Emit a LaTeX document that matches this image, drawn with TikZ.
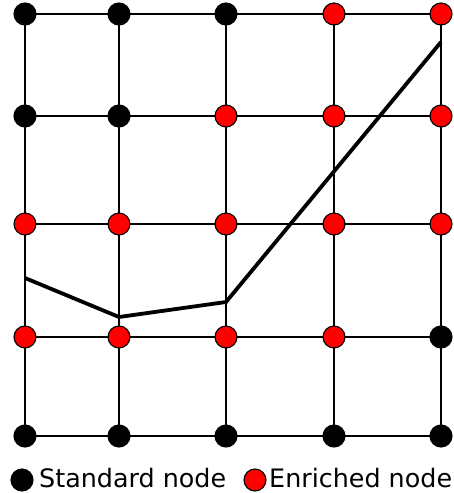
\documentclass[tikz,border=0pt]{standalone}
\usepackage{fontspec}
\setmainfont{DejaVu Sans}
\usepackage{tikz}
\usetikzlibrary{backgrounds, positioning}
\tikzset{
  %% Grid node (mesh vertex)
  stdnode/.style={
    circle, fill=black, draw=black,
    minimum size=22pt, inner sep=0pt, line width=1.1pt
  },
  enrnode/.style={
    circle, fill=red, draw=black,
    minimum size=22pt, inner sep=0pt, line width=1.1pt
  },
  %% Mesh line
  mesh/.style={draw=black, line width=1.6pt},
  %% Crack path
  crack/.style={draw=black, line width=3.8pt, line join=miter},
  %% Legend text
  legtext/.style={anchor=base west, inner sep=0pt, font=\fontsize{25.4}{28}\selectfont},
}

\begin{document}
\begin{tikzpicture}[x=1pt, y=-1pt]

  \useasboundingbox (0,0) rectangle (454,493);

  %% ---- Standard nodes ----
  \foreach \c/\r/\x/\y in {0/0/25/14, 1/0/119/14, 2/0/226/14,
                           0/1/25/116, 1/1/119/116,
                           4/3/441/337,
                           0/4/25/436, 1/4/119/436, 2/4/226/436,
                           3/4/334/436, 4/4/441/436}
    \node[stdnode] (n\c\r) at (\x,\y) {};

  %% ---- Enriched nodes ----
  \foreach \c/\r/\x/\y in {3/0/334/14, 4/0/441/14,
                           2/1/226/116, 3/1/334/116, 4/1/441/116,
                           0/2/25/224, 1/2/119/224, 2/2/226/224,
                           3/2/334/224, 4/2/441/224,
                           0/3/25/337, 1/3/119/337, 2/3/226/337, 3/3/334/337}
    \node[enrnode] (n\c\r) at (\x,\y) {};

  %% ---- Mesh lines ----
  \begin{scope}[on background layer]
    \foreach \i in {0,...,4} {
      \draw[mesh] (n0\i.center) -- (n4\i.center);
      \draw[mesh] (n\i0.center) -- (n\i4.center);
    }
  \end{scope}

  %% ---- Crack ----
  \coordinate (p1) at (25,278);
  \coordinate (p2) at (119,317);
  \coordinate (p3) at (226,302);
  \coordinate (p4) at (441,42);
  \draw[crack] (p1) -- (p2) -- (p3) -- (p4);

  %% ---- Legend ----
  \node[stdnode] (lstd) at (22,480) {};
  \node[legtext] (tstd) at (39,487) {Standard node};
  \node[enrnode] (lenr) at (255,480) {};
  \node[legtext] (tenr) at (269,487) {Enriched node};

\end{tikzpicture}
\end{document}
